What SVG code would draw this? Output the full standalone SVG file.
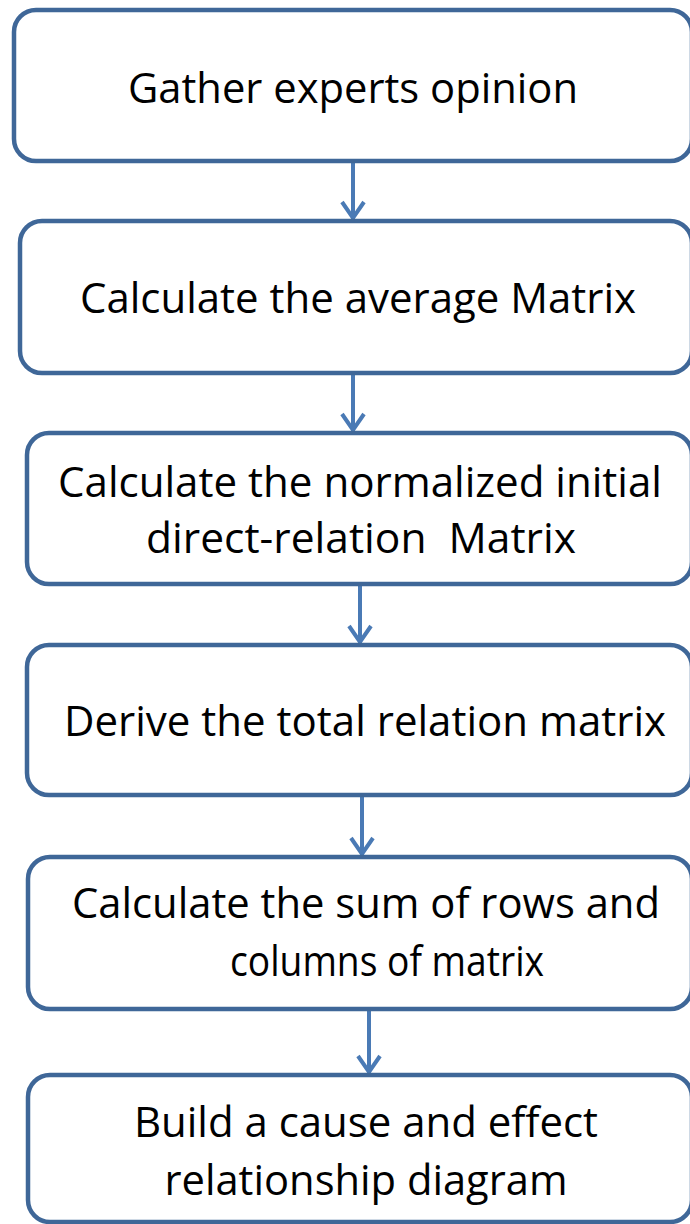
<svg xmlns="http://www.w3.org/2000/svg" width="690" height="1224" viewBox="0 0 690 1224">
<style>
.box{fill:#ffffff;stroke:#3f6798;stroke-width:4.5}
.lbl{font-family:"Open Sans","Noto Sans",sans-serif;font-size:42px;fill:#000000;text-anchor:middle;white-space:pre}
.con{fill:none;stroke:#4a7ab5;stroke-width:4;stroke-linejoin:miter;stroke-linecap:butt}
</style>
<rect width="690" height="1224" fill="#ffffff"/>
<g id="connectors">
<path class="con" d="M353,162 V219 M342,202 L353,218 L364,202"/>
<path class="con" d="M353,374 V431 M342,414 L353,430 L364,414"/>
<path class="con" d="M360,586 V643 M349,626 L360,642 L371,626"/>
<path class="con" d="M362,797 V855 M351,838 L362,854 L373,838"/>
<path class="con" d="M369,1010 V1073 M358,1056 L369,1072 L380,1056"/>
</g>
<g id="n1"><rect class="box" x="14" y="10" width="678" height="151" rx="22"/>
<text class="lbl" x="353" y="103" textLength="450" lengthAdjust="spacingAndGlyphs">Gather experts opinion</text></g>
<g id="n2"><rect class="box" x="20" y="221" width="672" height="152" rx="22"/>
<text class="lbl" x="358" y="313" textLength="556" lengthAdjust="spacingAndGlyphs">Calculate the average Matrix</text></g>
<g id="n3"><rect class="box" x="27" y="433" width="665" height="151" rx="22"/>
<text class="lbl" x="360" y="497" textLength="604" lengthAdjust="spacingAndGlyphs">Calculate the normalized initial</text>
<text class="lbl" x="361" y="553" textLength="430" lengthAdjust="spacingAndGlyphs" xml:space="preserve">direct-relation  Matrix</text></g>
<g id="n4"><rect class="box" x="27" y="645" width="665" height="150" rx="22"/>
<text class="lbl" x="365" y="736" textLength="602" lengthAdjust="spacingAndGlyphs">Derive the total relation matrix</text></g>
<g id="n5"><rect class="box" x="28" y="857" width="664" height="152" rx="22"/>
<text class="lbl" x="366" y="918" textLength="588" lengthAdjust="spacingAndGlyphs">Calculate the sum of rows and</text>
<text class="lbl" x="387" y="976" textLength="314" lengthAdjust="spacingAndGlyphs">columns of matrix</text></g>
<g id="n6"><rect class="box" x="28" y="1075" width="664" height="147" rx="22"/>
<text class="lbl" x="366" y="1137" textLength="464" lengthAdjust="spacingAndGlyphs">Build a cause and effect</text>
<text class="lbl" x="366" y="1195" textLength="403" lengthAdjust="spacingAndGlyphs">relationship diagram</text></g>
</svg>
